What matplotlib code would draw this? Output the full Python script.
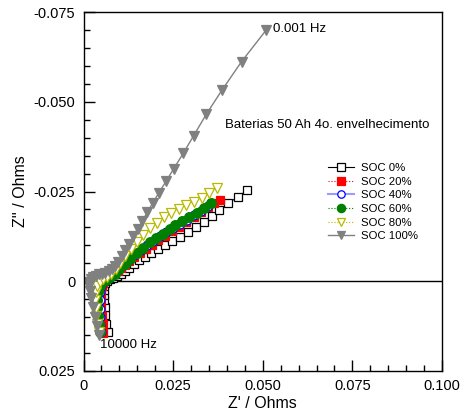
import matplotlib
matplotlib.use('Agg')
import matplotlib.pyplot as plt

plt.rcParams['font.family'] = ['Liberation Sans', 'DejaVu Sans']

# impedance data, listed from 10000 Hz down to 0.001 Hz
soc0_x = [0.0067, 0.0064, 0.0061, 0.0059, 0.0058, 0.0057, 0.0057, 0.0058, 0.0061, 0.0066, 0.0074,
          0.0083, 0.0094, 0.0105, 0.0117, 0.0128, 0.0140, 0.0156, 0.0172, 0.0189, 0.0207, 0.0228,
          0.0247, 0.0270, 0.0291, 0.0314, 0.0335, 0.0358, 0.0379, 0.0404, 0.0430, 0.0456]
soc0_y = [0.0141, 0.0118, 0.0094, 0.0072, 0.0053, 0.0037, 0.0023, 0.0012, 0.0004, -0.0002, -0.0006,
          -0.0010, -0.0015, -0.0021, -0.0029, -0.0038, -0.0047, -0.0058, -0.0068, -0.0080, -0.0091, -0.0102,
          -0.0112, -0.0124, -0.0138, -0.0152, -0.0165, -0.0181, -0.0198, -0.0217, -0.0235, -0.0253]

soc20_x = [0.0055, 0.0053, 0.0051, 0.0050, 0.0049, 0.0049, 0.0050, 0.0051, 0.0054, 0.0059, 0.0066,
           0.0075, 0.0085, 0.0095, 0.0105, 0.0116, 0.0128, 0.0142, 0.0157, 0.0173, 0.0190, 0.0208,
           0.0227, 0.0246, 0.0266, 0.0286, 0.0307, 0.0327, 0.0347, 0.0365, 0.0382]
soc20_y = [0.0143, 0.0120, 0.0097, 0.0075, 0.0055, 0.0038, 0.0024, 0.0013, 0.0004, -0.0003, -0.0008,
           -0.0014, -0.0021, -0.0029, -0.0037, -0.0046, -0.0056, -0.0067, -0.0078, -0.0090, -0.0102, -0.0114,
           -0.0126, -0.0139, -0.0152, -0.0166, -0.0180, -0.0194, -0.0208, -0.0217, -0.0225]

soc40_x = [0.0049, 0.0047, 0.0046, 0.0046, 0.0046, 0.0047, 0.0050, 0.0055, 0.0062, 0.0072, 0.0084,
           0.0097, 0.0111, 0.0126, 0.0142, 0.0159, 0.0177, 0.0195, 0.0213, 0.0231, 0.0249, 0.0268,
           0.0288, 0.0308, 0.0328, 0.0348]
soc40_y = [0.0141, 0.0121, 0.0099, 0.0076, 0.0053, 0.0031, 0.0013, 0.0002, -0.0003, -0.0010, -0.0019,
           -0.0031, -0.0044, -0.0058, -0.0072, -0.0086, -0.0100, -0.0113, -0.0125, -0.0137, -0.0148, -0.0160,
           -0.0172, -0.0184, -0.0197, -0.0211]

soc60_x = [0.0045, 0.0042, 0.0040, 0.0039, 0.0039, 0.0041, 0.0045, 0.0052, 0.0062, 0.0074, 0.0087,
           0.0100, 0.0115, 0.0131, 0.0148, 0.0166, 0.0185, 0.0203, 0.0222, 0.0240, 0.0256, 0.0275,
           0.0295, 0.0316, 0.0337, 0.0357]
soc60_y = [0.0140, 0.0120, 0.0098, 0.0075, 0.0052, 0.0030, 0.0012, 0.0001, -0.0004, -0.0011, -0.0021,
           -0.0033, -0.0047, -0.0062, -0.0078, -0.0093, -0.0108, -0.0121, -0.0133, -0.0145, -0.0156, -0.0168,
           -0.0180, -0.0191, -0.0203, -0.0219]

soc80_x = [0.0042, 0.0039, 0.0036, 0.0034, 0.0033, 0.0034, 0.0038, 0.0045, 0.0055, 0.0066, 0.0078,
           0.0090, 0.0103, 0.0117, 0.0133, 0.0150, 0.0167, 0.0186, 0.0205, 0.0225, 0.0244, 0.0265,
           0.0286, 0.0309, 0.0330, 0.0349, 0.0373]
soc80_y = [0.0140, 0.0120, 0.0098, 0.0075, 0.0052, 0.0030, 0.0012, 0.0001, -0.0005, -0.0011, -0.0020,
           -0.0033, -0.0050, -0.0069, -0.0090, -0.0110, -0.0129, -0.0147, -0.0163, -0.0178, -0.0191, -0.0202,
           -0.0212, -0.0222, -0.0233, -0.0245, -0.0259]

soc100_x = [0.0042, 0.0037, 0.0032, 0.0027, 0.0022, 0.0018, 0.0016, 0.0016, 0.0020, 0.0026, 0.0034,
            0.0043, 0.0052, 0.0061, 0.0070, 0.0079, 0.0088, 0.0097, 0.0107, 0.0117, 0.0128, 0.0139,
            0.0151, 0.0164, 0.0178, 0.0193, 0.0210, 0.0230, 0.0252, 0.0278, 0.0307, 0.0343, 0.0386,
            0.0441, 0.0509]
soc100_y = [0.0150, 0.0126, 0.0100, 0.0073, 0.0048, 0.0027, 0.0013, 0.0002, -0.0006, -0.0012, -0.0016,
            -0.0019, -0.0021, -0.0024, -0.0028, -0.0034, -0.0043, -0.0055, -0.0070, -0.0087, -0.0105, -0.0125,
            -0.0146, -0.0168, -0.0192, -0.0218, -0.0246, -0.0278, -0.0314, -0.0356, -0.0405, -0.0466, -0.0532,
            -0.0612, -0.0699]

labels = ['SOC 0%', 'SOC 20%', 'SOC 40%', 'SOC 60%', 'SOC 80%', 'SOC 100%']
xs = [soc0_x, soc20_x, soc40_x, soc60_x, soc80_x, soc100_x]
ys = [soc0_y, soc20_y, soc40_y, soc60_y, soc80_y, soc100_y]

styles = [
    dict(color='black', ls='-', lw=0.8, marker='s', mfc='white', mec='black', ms=6.3),
    dict(color='red', ls=':', lw=0.8, marker='s', mfc='red', mec='red', ms=6.3),
    dict(color='#9a9aff', ls='-', lw=1.5, marker='o', mfc='white', mec='blue', ms=6.3),
    dict(color='green', ls=':', lw=0.8, marker='o', mfc='green', mec='green', ms=7),
    dict(color='#b8b800', ls=':', lw=0.8, marker='v', mfc='white', mec='#b8b800', ms=7),
    dict(color='gray', ls='-', lw=1.0, marker='v', mfc='gray', mec='gray', ms=7),
]

fig = plt.figure(figsize=(4.62, 4.17), dpi=100)
ax = fig.add_axes([83.5/462, 1-371/417, (442-83.5)/462, (371-12)/417])

for x, y, lab, st in zip(xs, ys, labels, styles):
    ax.plot(x, y, label=lab, mew=0.9, **st)

ax.axhline(0, color='black', lw=1.0, zorder=0)

ax.set_xlim(0, 0.1)
ax.set_ylim(0.025, -0.075)
ax.set_xticks([0, 0.025, 0.05, 0.075, 0.1])
ax.set_xticklabels(['0', '0.025', '0.050', '0.075', '0.100'])
ax.set_yticks([0.025, 0, -0.025, -0.05, -0.075])
ax.set_yticklabels(['0.025', '0', '-0.025', '-0.050', '-0.075'])
ax.set_xticks([i * 0.005 for i in range(21)], minor=True)
ax.set_yticks([0.025 - i * 0.005 for i in range(21)], minor=True)
ax.tick_params(which='both', direction='in', top=False, right=False, labelsize=10.5)
ax.tick_params(which='major', length=8, width=1.0, pad=6)
ax.tick_params(which='minor', length=4.5, width=1.0)
for s in ax.spines.values():
    s.set_linewidth(1.0)

ax.set_xlabel("Z' / Ohms", fontsize=11.5, labelpad=2)
ax.set_ylabel("Z'' / Ohms", fontsize=11.5, labelpad=4)

ax.text(0.0529, -0.0703, '0.001 Hz', fontsize=9.5, va='center', ha='left')
ax.text(0.0046, 0.0177, '10000 Hz', fontsize=9.5, va='center', ha='left')
ax.text(0.0395, -0.0436, 'Baterias 50 Ah 4o. envelhecimento', fontsize=9.5, va='center', ha='left')

leg = ax.legend(loc='upper left', bbox_to_anchor=(328/462, 1-163/417), bbox_transform=fig.transFigure,
                frameon=False, fontsize=8.2, handlelength=2.3, handletextpad=0.6, labelspacing=0.32,
                borderpad=0, borderaxespad=0, markerscale=0.85)

fig.savefig('out.png', dpi=100)
